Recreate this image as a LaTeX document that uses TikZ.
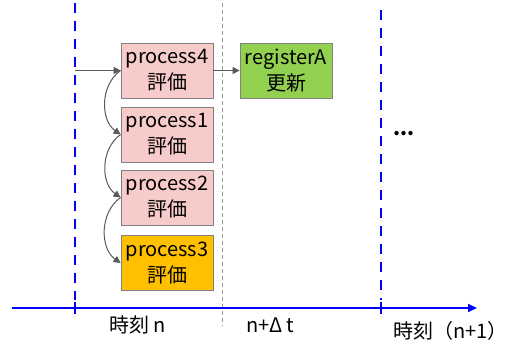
\documentclass[tikz,border=0pt]{standalone}
\usepackage{fontspec}
\setmainfont{Noto Sans CJK JP}
\usetikzlibrary{arrows.meta}
\definecolor{pinkfill}{RGB}{248,203,203}
\definecolor{orangefill}{RGB}{255,192,0}
\definecolor{greenfill}{RGB}{146,208,80}
\definecolor{boxline}{RGB}{128,128,128}
\definecolor{conn}{RGB}{89,89,89}
\definecolor{axisblue}{RGB}{0,0,255}
\tikzset{
  procbox/.style={draw=boxline, line width=0.8pt, minimum width=92pt, minimum height=55pt,
    inner sep=0pt, align=center, font=\fontsize{20}{26}\selectfont},
  connarrow/.style={draw=conn, line width=1pt, -{Triangle[length=7pt,width=7pt]}},
  blueline/.style={draw=axisblue, line width=2pt, dash pattern=on 10pt off 8pt},
  grayline/.style={draw=gray!80, line width=1pt, dash pattern=on 4pt off 3pt},
  lbl/.style={inner sep=0pt, font=\fontsize{20}{22}\selectfont}
}
\begin{document}
\begin{tikzpicture}[x=1pt,y=-1pt]
\useasboundingbox (0,0) rectangle (510,343);
% vertical lines
\coordinate (b1t) at (75,3);
\coordinate (b1b) at (75,300);
\coordinate (b2t) at (381,10);
\coordinate (b2b) at (381,300);
\coordinate (gt) at (222,3);
\coordinate (gb) at (222,326);
\draw[blueline] (b1t) -- (b1b);
\draw[blueline] (b2t) -- (b2b);
\draw[grayline] (gt) -- (gb);
% axis
\coordinate (as) at (12,308);
\coordinate (ae) at (477,308);
\draw[axisblue, line width=1.8pt, -{Triangle[length=9pt,width=8pt]}] (as) -- (ae);
\coordinate (t1a) at (75,302); \coordinate (t1b) at (75,314);
\coordinate (t2a) at (381,302); \coordinate (t2b) at (381,314);
\draw[axisblue, line width=2pt] (t1a) -- (t1b);
\draw[axisblue, line width=2pt] (t2a) -- (t2b);
% boxes
\node[procbox, fill=pinkfill] (p4) at (167,70.5) {process4\\評価};
\node[procbox, fill=pinkfill] (p1) at (167,134.5) {process1\\評価};
\node[procbox, fill=pinkfill] (p2) at (167,197.5) {process2\\評価};
\node[procbox, fill=orangefill] (p3) at (167,263) {process3\\評価};
\node[procbox, fill=greenfill] (ra) at (286,70.5) {registerA\\更新};
% connectors
\coordinate (src) at (75,70.5);
\draw[connarrow] (src) -- (p4.west);
\draw[connarrow] (p4.east) -- (ra.west);
\draw[connarrow] (p4.west) to[bend right=55] (p1.west);
\draw[connarrow] (p1.west) to[bend right=55] (p2.west);
\draw[connarrow] (p2.west) to[bend right=55] (p3.west);
% labels
\node[lbl] (l1) at (138,325) {時刻\hspace{4pt}n};
\node[lbl] (l2) at (270,325) {n+Δ\hspace{4pt}t};
\node[lbl, anchor=east] (l3) at (508,331) {時刻（n+1）};
\node[lbl] (dots) at (404,134) {\textbf{...}};
\end{tikzpicture}
\end{document}
